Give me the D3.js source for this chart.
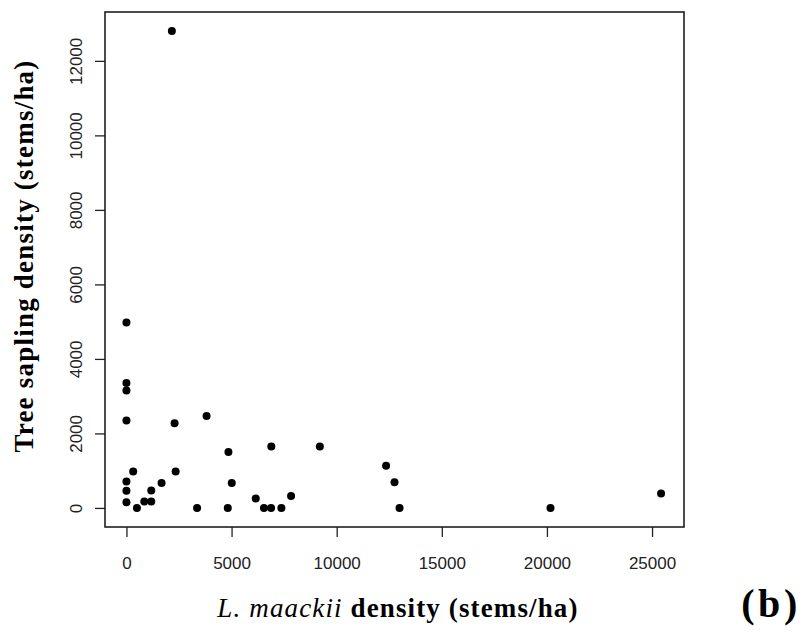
<!DOCTYPE html>
<html><head><meta charset="utf-8">
<script src="https://cdn.jsdelivr.net/npm/d3@7"></script>
<style>body{margin:0;background:#fff}</style>
</head><body>
<svg id="c" width="803" height="636"></svg>
<script>
const maackii = [0,0,0,0,2160,2290,3810,4850,6890,9200,12350,12750,12990,320,0,0,0,500,850,1180,1180,1670,2340,3360,4820,5010,6150,6540,6880,7370,7830,20170,25430];
const sapling = [4980,3350,3150,2350,12800,2270,2470,1500,1650,1650,1130,690,0,980,710,460,150,0,170,470,170,670,980,0,0,670,250,0,0,0,320,0,390];
const xTicks = [0,5000,10000,15000,20000,25000];
const yTicks = [0,2000,4000,6000,8000,10000,12000];

const svg = d3.select("#c");
const L=105, R=684, T=12, B=527;
const x = d3.scaleLinear().domain([-1020,26520]).range([L,R]);
const y = d3.scaleLinear().domain([-512,13312]).range([B,T]);

svg.append("rect").attr("x",L).attr("y",T).attr("width",R-L).attr("height",B-T)
  .attr("fill","none").attr("stroke","#111").attr("stroke-width",1.5);

const tickFont = "Liberation Sans, Arial, sans-serif";
const xa = svg.append("g").attr("transform",`translate(0,${B})`)
  .call(d3.axisBottom(x).tickValues(xTicks).tickSize(10).tickPadding(20).tickFormat(d3.format("d")));
xa.select(".domain").remove();
xa.selectAll("line").attr("stroke","#222").attr("stroke-width",1.3);
xa.selectAll("text").attr("font-family",tickFont).attr("font-size",17).attr("fill","#222");

const ya = svg.append("g").attr("transform",`translate(${L},0)`)
  .call(d3.axisLeft(y).tickValues(yTicks).tickSize(10).tickFormat(d3.format("d")));
ya.select(".domain").remove();
ya.selectAll("line").attr("stroke","#222").attr("stroke-width",1.3);
ya.selectAll("text").attr("font-family",tickFont).attr("font-size",17).attr("fill","#222")
  .attr("x",0).attr("dy","0.35em").attr("text-anchor","middle")
  .attr("transform","translate(-29,0) rotate(-90)");

svg.append("g").selectAll("circle").data(maackii.map((d,i)=>[d,sapling[i]])).join("circle")
  .attr("cx",d=>x(d[0])).attr("cy",d=>y(d[1])).attr("r",4).attr("fill","#000");

function fit(sel, target){
  const n = sel.text().length;
  const w = sel.node().getComputedTextLength();
  sel.attr("letter-spacing", ((target - w) / (n - 1)).toFixed(2));
}

const serif = "Liberation Serif, Times New Roman, serif";
const yl = svg.append("text").attr("transform","translate(33,256) rotate(-90)").attr("text-anchor","middle")
  .attr("font-family",serif).attr("font-weight","bold").attr("font-size",27)
  .text("Tree sapling density (stems/ha)");
fit(yl, 392);

const xl = svg.append("text").attr("x",398).attr("y",617).attr("text-anchor","middle")
  .attr("font-family",serif).attr("font-size",27);
xl.append("tspan").attr("font-style","italic").text("L. maackii");
xl.append("tspan").attr("font-weight","bold").text(" density (stems/ha)");
fit(xl, 360);

const bl = svg.append("text").attr("x",771).attr("y",617).attr("text-anchor","middle")
  .attr("font-family",serif).attr("font-weight","bold").attr("font-size",40)
  .text("(b)");
fit(bl, 56);
</script>
</body></html>
